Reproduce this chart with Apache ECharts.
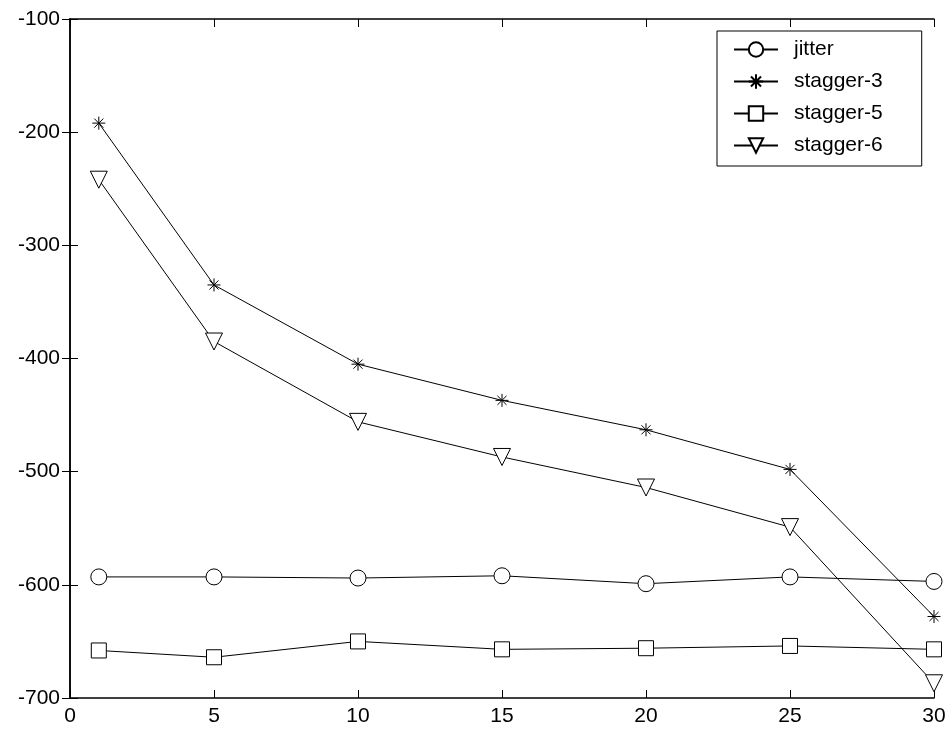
<!DOCTYPE html>
<html>
<head>
<meta charset="utf-8">
<script src="https://cdn.jsdelivr.net/npm/echarts@6/dist/echarts.min.js"></script>
<style>
  html, body { margin: 0; padding: 0; background: #fff; }
  #chart { width: 952px; height: 734px; }
</style>
</head>
<body>
<div id="chart"></div>
<script>
// x positions
const xs = [1, 5, 10, 15, 20, 25, 30];
// series values
const jitter = [-593, -593, -594, -592, -599, -593, -597];
const stagger3 = [-192, -335, -405, -437, -463, -498, -628];
const stagger5 = [-658, -664, -650, -657, -656, -654, -657];
const stagger6 = [-242, -385, -456, -487, -514, -549, -687];

const FONT = "'Liberation Sans', Arial, sans-serif";
const asterisk = 'path://M-10,0L10,0M0,-10L0,10M-7,-7L7,7M-7,7L7,-7';

const chart = echarts.init(document.getElementById('chart'));

function pairs(arr) {
    return xs.map((x, i) => [x, arr[i]]);
}

function mkSeries(name, arr, symbol, size, rotate) {
    return {
        name: name,
        type: 'line',
        data: pairs(arr),
        symbol: symbol,
        symbolSize: size,
        symbolRotate: rotate || 0,
        showAllSymbol: true,
        clip: true,
        lineStyle: { color: '#000', width: 1 },
        itemStyle: { color: '#fff', borderColor: '#000', borderWidth: 1 },
        emphasis: { disabled: true },
        animation: false
    };
}

const axisCommon = {
    axisLine: { show: true, lineStyle: { color: '#000', width: 1.5 } },
    axisTick: { show: true, inside: true, length: 8, lineStyle: { color: '#000' } },
    splitLine: { show: false }
};

const option = {
    backgroundColor: '#fff',
    animation: false,
    grid: { left: 70, right: 18, top: 19, bottom: 36 },
    legend: {
        orient: 'vertical',
        left: 717,
        top: 31,
        itemWidth: 44,
        itemHeight: 18,
        itemGap: 11,
        padding: [8, 39, 10, 16],
        borderColor: '#000',
        borderWidth: 1,
        backgroundColor: '#fff',
        textStyle: { fontFamily: FONT, fontSize: 21, color: '#000', padding: [0, 0, 0, 11] },
        data: ['jitter', 'stagger-3', 'stagger-5', 'stagger-6']
    },
    xAxis: [
        Object.assign({
            type: 'value', min: 0, max: 30, interval: 5, position: 'bottom',
            axisLabel: { fontFamily: FONT, fontSize: 21, color: '#000', margin: 8 }
        }, axisCommon),
        Object.assign({
            type: 'value', min: 0, max: 30, interval: 5, position: 'top',
            axisLabel: { show: false }
        }, axisCommon)
    ],
    yAxis: [
        Object.assign({
            type: 'value', min: -700, max: -100, interval: 100, position: 'left',
            axisLabel: { fontFamily: FONT, fontSize: 21, color: '#000', margin: 10 }
        }, axisCommon),
        Object.assign({
            type: 'value', min: -700, max: -100, interval: 100, position: 'right',
            axisLabel: { show: false }
        }, axisCommon)
    ],
    series: [
        mkSeries('jitter', jitter, 'circle', 16),
        mkSeries('stagger-3', stagger3, asterisk, 13),
        mkSeries('stagger-5', stagger5, 'rect', 15),
        mkSeries('stagger-6', stagger6, 'triangle', 17, 180)
    ]
};

chart.setOption(option);
window.addEventListener('resize', () => chart.resize());
</script>
</body>
</html>
